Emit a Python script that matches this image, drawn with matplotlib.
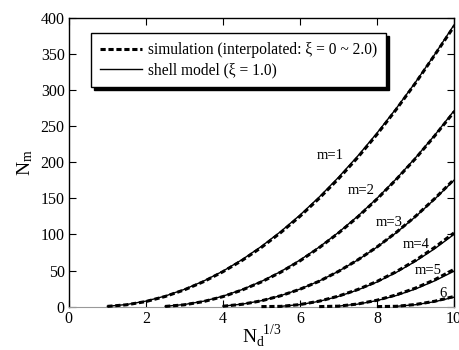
import numpy as np
import matplotlib
matplotlib.use("Agg")
import matplotlib.pyplot as plt

plt.rcParams['font.family'] = ['Liberation Serif', 'DejaVu Serif']
plt.rcParams['mathtext.fontset'] = 'custom'
plt.rcParams['mathtext.rm'] = 'Liberation Serif'
plt.rcParams['mathtext.it'] = 'Liberation Serif:italic'

nan = float('nan')
x_grid = [0.0, 0.5, 1.0, 1.5, 2.0, 2.5, 3.0, 3.5, 4.0, 4.5, 5.0,
          5.5, 6.0, 6.5, 7.0, 7.5, 8.0, 8.5, 9.0, 9.5, 10.0]

shell_m1 = [nan, nan, 0.4, 2.9, 7.6, 14.6, 23.9, 35.4, 49.1, 65.1, 83.4, 103.9, 126.7, 151.7, 179.0, 208.5, 240.3, 274.4, 310.7, 349.3, 390.1]
shell_m2 = [nan]*5 + [0.4, 2.9, 7.5, 14.4, 23.6, 34.9, 48.5, 64.4, 82.4, 102.7, 125.2, 149.9, 176.9, 206.1, 237.5, 271.2]
shell_m3 = [nan]*8 + [0.7, 3.4, 8.2, 15.2, 24.2, 35.4, 48.9, 64.5, 82.3, 102.3, 124.5, 148.9, 175.0]
shell_m4 = [nan]*11 + [0.4, 2.8, 7.3, 14.1, 23.0, 34.0, 47.3, 62.7, 80.2, 100.0]
shell_m5 = [nan]*14 + [0.7, 3.4, 8.3, 15.3, 24.4, 35.7, 49.0]
shell_m6 = [nan]*17 + [0.4, 2.6, 6.8, 13.0]

sim_m1 = [nan]*2 + [0.3, 2.5, 7.0, 14.0, 23.2, 34.6, 48.3, 64.0, 82.0, 102.5, 125.0, 150.0, 177.0, 206.5, 238.5, 273.0, 309.5, 348.5, 388.0]
sim_m2 = [nan]*5 + [0.2, 2.5, 7.0, 13.8, 23.0, 34.2, 47.6, 63.3, 81.5, 101.8, 124.0, 148.8, 176.0, 205.0, 236.5, 269.5]
sim_m3 = [nan]*8 + [0.5, 3.2, 8.0, 15.0, 24.0, 35.1, 48.7, 64.6, 82.5, 102.7, 125.0, 149.6, 176.0]
sim_m4 = [nan]*10 + [0.0, 0.3, 2.8, 7.5, 14.5, 23.6, 34.8, 48.3, 64.0, 82.0, 102.0]
sim_m5 = [nan]*13 + [0.0, 0.6, 3.6, 8.8, 16.2, 25.6, 37.2, 51.5]
sim_m6 = [nan]*16 + [0.0, 0.4, 2.9, 7.4, 14.0]

curve_labels = ['m=1', 'm=2', 'm=3', 'm=4', 'm=5', '6']
label_x = [6.78, 7.58, 8.31, 9.01, 9.32, 9.71]
label_y = [210, 161, 117, 86, 50, 18]

fig = plt.figure(figsize=(4.59, 3.5), dpi=100)
ax = fig.add_axes([0.150, 0.124, 0.839, 0.825])

x = np.array(x_grid, dtype=float)
sims = [sim_m1, sim_m2, sim_m3, sim_m4, sim_m5, sim_m6]
shells = [shell_m1, shell_m2, shell_m3, shell_m4, shell_m5, shell_m6]
for i, (s, h) in enumerate(zip(sims, shells)):
    ax.plot(x, np.array(s, dtype=float), color='black', lw=2.2, ls=(0, (1.7, 0.9)),
            label='simulation (interpolated: ξ = 0 ~ 2.0)' if i == 0 else None, clip_on=False, zorder=3)
    ax.plot(x, np.array(h, dtype=float), color='black', lw=1.0,
            label='shell model (ξ = 1.0)' if i == 0 else None, clip_on=False, zorder=4)

for t, lx, ly in zip(curve_labels, label_x, label_y):
    ax.text(lx, ly, t, fontsize=10.5, ha='center', va='center')

ax.set_xlim(0, 10)
ax.set_ylim(0, 400)
ax.set_xticks([0, 2, 4, 6, 8, 10])
ax.set_yticks([0, 50, 100, 150, 200, 250, 300, 350, 400])
ax.tick_params(direction='in', length=5, width=0.8, labelsize=11.5, top=True, right=True, pad=3)
ax.spines['bottom'].set_color('#999999')
for sp in ['left', 'top', 'right']:
    ax.spines[sp].set_linewidth(1.0)

ax.set_xlabel(r'N$_{\rm d}^{\ \ 1/3}$', fontsize=14, labelpad=-2)
ax.set_ylabel(r'N$_{\rm m}$', fontsize=14, labelpad=4)

leg = ax.legend(loc='upper left', bbox_to_anchor=(0.057, 0.948), borderaxespad=0,
                fontsize=11.2, frameon=True, fancybox=False, edgecolor='black',
                shadow={'color': 'black', 'alpha': 1.0}, handlelength=2.7,
                borderpad=0.6, labelspacing=0.25, handletextpad=0.35)
leg.get_frame().set_linewidth(1.0)

fig.savefig('out.png', dpi=100)
